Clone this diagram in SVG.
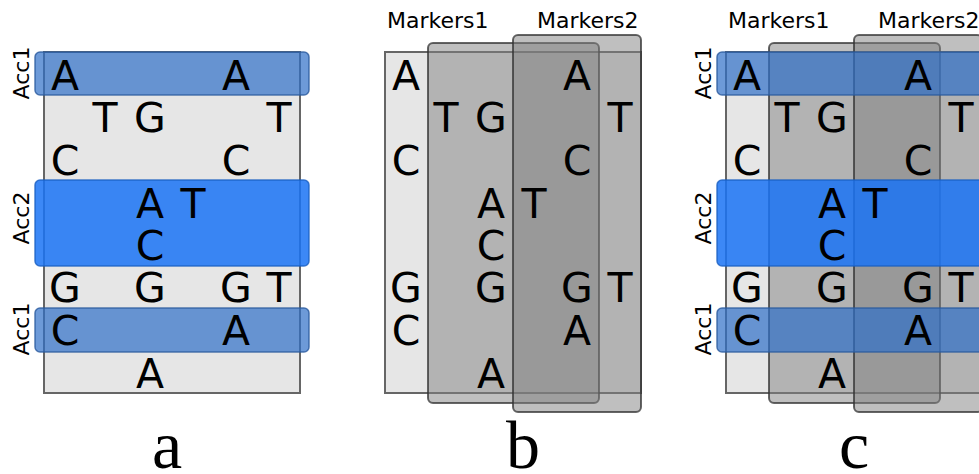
<svg xmlns="http://www.w3.org/2000/svg" xmlns:xlink="http://www.w3.org/1999/xlink" width="979" height="474" viewBox="0 0 979 474">
<style>
.bg{fill:#e6e6e6;stroke:#666;stroke-width:2}
.m{fill:#808080;fill-opacity:.5;stroke:#333;stroke-opacity:.75;stroke-width:2}
.acc1{fill:#2f6fc8;fill-opacity:.7;stroke:#2a5a9e;stroke-opacity:.8;stroke-width:1.5}
.acc2{fill:#1a73f5;fill-opacity:.85;stroke:#1a5fc0;stroke-opacity:.8;stroke-width:1.5}
.n{font-family:"DejaVu Sans",Verdana,sans-serif;font-size:41px;fill:#000;text-anchor:middle}
.lab{font-family:"DejaVu Sans",Verdana,sans-serif;font-size:22px;fill:#000}
.acc{font-family:"DejaVu Sans",Verdana,sans-serif;font-size:22px;fill:#000;text-anchor:middle}
.pl{font-family:"Liberation Serif","Times New Roman",serif;font-size:68px;fill:#000;text-anchor:middle}
</style>
<defs>
<g id="grid" class="n">
<text x="65" y="90">A</text><text x="236" y="90">A</text>
<text x="105" y="132">T</text><text x="150" y="132">G</text><text x="279" y="132">T</text>
<text x="65" y="175">C</text><text x="236" y="175">C</text>
<text x="150" y="218">A</text><text x="193" y="218">T</text>
<text x="150" y="260">C</text>
<text x="65" y="302">G</text><text x="150" y="302">G</text><text x="236" y="302">G</text><text x="279" y="302">T</text>
<text x="65" y="345">C</text><text x="236" y="345">A</text>
<text x="150" y="388">A</text>
</g>
<rect id="bgr" class="bg" x="44" y="52" width="256" height="341"/>
<g id="bands">
<rect class="acc1" x="35" y="52" width="274" height="43" rx="5"/>
<rect class="acc2" x="35" y="180" width="274" height="86" rx="5"/>
<rect class="acc1" x="35" y="308" width="274" height="44" rx="5"/>
</g>
<g id="acclabels" class="acc">
<text transform="translate(29,73) rotate(-90)">Acc1</text>
<text transform="translate(29,218) rotate(-90)">Acc2</text>
<text transform="translate(29,329) rotate(-90)">Acc1</text>
</g>
<g id="markers">
<rect class="m" x="87" y="43" width="171" height="360" rx="5"/>
<rect class="m" x="172" y="35" width="128" height="377" rx="5"/>
<text class="lab" x="46" y="28">Markers1</text>
<text class="lab" x="196" y="28">Markers2</text>
</g>
</defs>
<g id="panel-a">
<use xlink:href="#bgr"/>
<use xlink:href="#bands"/>
<use xlink:href="#grid"/>
<use xlink:href="#acclabels"/>
<text class="pl" x="167" y="468">a</text>
</g>
<g id="panel-b" transform="translate(341,0)">
<use xlink:href="#bgr"/>
<use xlink:href="#markers"/>
<use xlink:href="#grid"/>
<text class="pl" x="182" y="468">b</text>
</g>
<g id="panel-c" transform="translate(682,0)">
<use xlink:href="#bgr"/>
<use xlink:href="#markers"/>
<use xlink:href="#bands"/>
<use xlink:href="#grid"/>
<use xlink:href="#acclabels"/>
<text class="pl" x="172" y="468">c</text>
</g>
</svg>
